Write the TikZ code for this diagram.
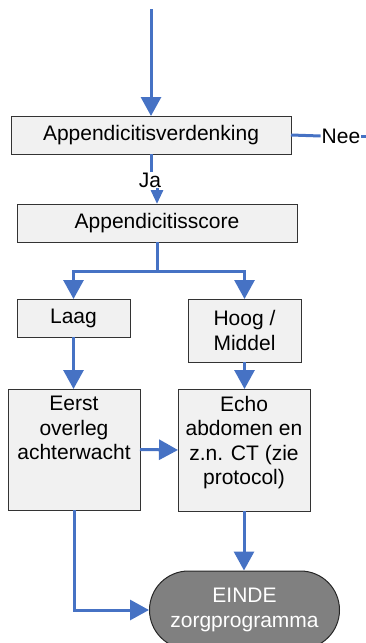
\documentclass[tikz,border=0pt]{standalone}
\usepackage{fontspec}
\setmainfont{Liberation Sans}
\usetikzlibrary{arrows.meta,shapes.misc}
\definecolor{flow}{RGB}{70,114,196}
\definecolor{boxfill}{RGB}{241,241,241}
\definecolor{endfill}{RGB}{128,128,128}
\begin{document}
\begin{tikzpicture}[x=1pt,y=-1pt,
  box/.style={draw=black!80, line width=1pt, fill=boxfill, inner sep=0pt, outer sep=0pt,
              font=\fontsize{21}{24.5}\selectfont, align=center},
  txt/.style={font=\fontsize{21}{24.5}\selectfont, align=center, inner sep=0pt},
  conn/.style={draw=flow, line width=3pt},
  arr/.style={conn, -{Triangle[width=20pt,length=19pt]}},
  smallarr/.style={conn, -{Triangle[width=12pt,length=14pt]}},
]
\useasboundingbox (0,0) rectangle (366,643);

% nodes
\node[box, minimum width=280pt, minimum height=38pt] (verd) at (151,135) {Appendicitisverdenking};
\node[box, minimum width=280pt, minimum height=38pt] (score) at (157,223) {Appendicitisscore};
\node[box, minimum width=113pt, minimum height=38pt] (laag) at (73.5,318) {Laag};
\node[box, minimum width=113pt, minimum height=63pt] (hoog) at (244.5,330.5) {Hoog /\\Middel};
\node[box, minimum width=132pt, minimum height=121pt] (eerst) at (74,449.5) {};
\node[box, minimum width=132pt, minimum height=122pt] (echo) at (244,450) {};
\node[txt, anchor=north] (eerstT) at (74,396) {Eerst\\overleg\\achterwacht};
\node[txt, anchor=north] (echoT) at (244,396) {Echo\\abdomen en\\z.n. CT (zie\\protocol)};
\node[rounded rectangle, draw=black!85, line width=1pt, fill=endfill, text=white,
      minimum width=190pt, minimum height=78pt, inner sep=0pt,
      font=\fontsize{21}{24.5}\selectfont, align=center] (einde) at (244.5,610) {EINDE\\zorgprogramma};

\coordinate (start) at (151,9);
\coordinate (neeEnd) at (368,136);
\coordinate (split) at (157,271);

% connectors
\draw[arr] (start) -- (verd.north);
\node[txt, inner sep=1pt] (nee) at (341,136) {Nee};
\draw[conn] (verd.east) -- (nee.west);
\draw[conn] (nee.east) -- (neeEnd);
\draw[smallarr] (verd.south) -- (151,186) -- (157,186) -- (score.north);
\node[txt, fill=white, inner sep=1pt] (ja) at (150,180) {Ja};
\draw[conn] (score.south) -- (split);
\draw[arr] (split) -| (laag.north);
\draw[arr] (split) -| (hoog.north);
\draw[arr] (laag.south) -- (laag.south |- eerst.north);
\draw[arr] (hoog.south) -- (hoog.south |- echo.north);
\draw[arr] (eerst.east) -- (echo.west);
\draw[arr] (echo.south) -- (echo.south |- einde.north);
\draw[arr] (eerst.south) |- (einde.west);
\end{tikzpicture}
\end{document}
